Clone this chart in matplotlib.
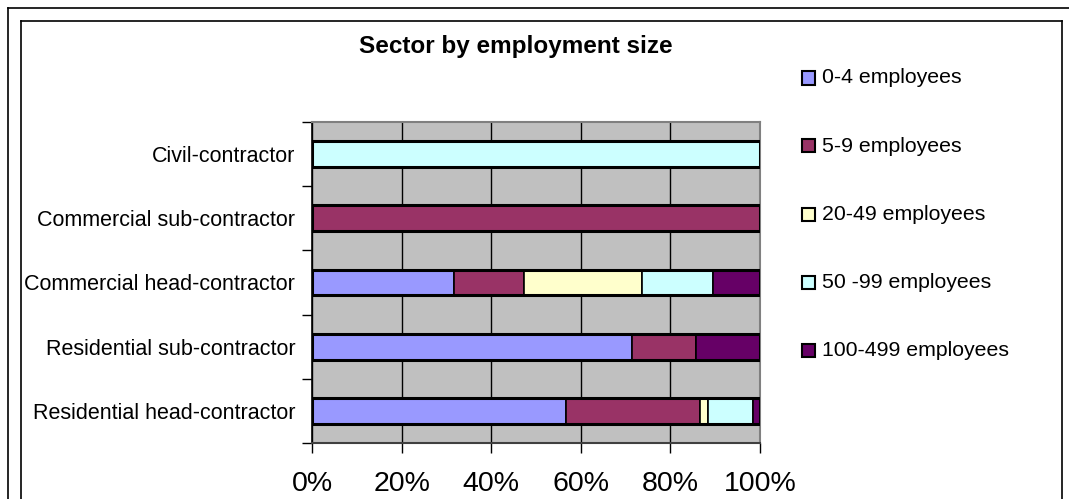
import matplotlib
matplotlib.use("Agg")
import matplotlib.pyplot as plt
from matplotlib.patches import Rectangle
from matplotlib.lines import Line2D
import numpy as np

plt.rcParams["font.family"] = ["Liberation Sans", "DejaVu Sans"]

# -------------------------------------------------------
# Data (share of firms in %, per sector)
# -------------------------------------------------------
sectors = [
    "Residential head-contractor",
    "Residential sub-contractor",
    "Commercial head-contractor",
    "Commercial sub-contractor",
    "Civil-contractor",
]
size_classes = ["0-4 employees", "5-9 employees", "20-49 employees",
                "50 -99 employees", "100-499 employees"]
size_colors = ["#9999FF", "#993366", "#FFFFCC", "#CCFFFF", "#660066"]

share_0_4 = [56.7, 71.4, 31.6, 0.0, 0.0]
share_5_9 = [30.0, 14.3, 15.8, 100.0, 0.0]
share_20_49 = [1.7, 0.0, 26.3, 0.0, 0.0]
share_50_99 = [10.0, 0.0, 15.8, 0.0, 100.0]
share_100_499 = [1.6, 14.3, 10.5, 0.0, 0.0]

shares = [share_0_4, share_5_9, share_20_49, share_50_99, share_100_499]
xticks = [0, 20, 40, 60, 80, 100]

# -------------------------------------------------------
# Figure
# -------------------------------------------------------
W, H = 1069, 499
fig = plt.figure(figsize=(W / 100, H / 100), dpi=100)
ax = fig.add_axes([312 / W, 1 - 443 / H, (760 - 312) / W, (443 - 122) / H])
ax.set_facecolor("#C0C0C0")

y = np.arange(len(sectors))
left = np.zeros(len(sectors))
for vals, col in zip(shares, size_colors):
    vals = np.array(vals)
    ax.barh(y, vals, left=left, height=0.4, color=col,
            edgecolor="black", linewidth=1.2, zorder=3)
    left += vals
# thicker outline around each full bar
ax.barh(y, left, height=0.4, fill=False, edgecolor="black",
        linewidth=2.2, zorder=4)

ax.set_xlim(0, 100)
ax.set_ylim(-0.5, len(sectors) - 0.5)
ax.set_xticks(xticks)
ax.set_xticklabels([f"{t}%" for t in xticks], fontsize=20.5)
ax.set_yticks(y)
ax.set_yticklabels(sectors, fontsize=15.5)
ax.set_yticks(np.arange(len(sectors) + 1) - 0.5, minor=True)
ax.tick_params(axis="y", which="major", length=0, pad=12)
ax.tick_params(axis="y", which="minor", length=7, width=1, color="black")
ax.tick_params(axis="x", length=7, width=1, color="black", pad=13.5)
ax.xaxis.grid(True, color="black", linewidth=1.0, zorder=1)
ax.set_axisbelow(True)

for side in ["top", "right"]:
    ax.spines[side].set_color("#808080")
    ax.spines[side].set_linewidth(1.5)
ax.spines["left"].set_color("black")
ax.spines["bottom"].set_color("#404040")
ax.spines["left"].set_linewidth(1.2)
ax.spines["bottom"].set_linewidth(1.5)

# title
fig.text(516 / W, 1 - 46 / H, "Sector by employment size", ha="center",
         va="center", fontsize=17.5, fontweight="bold")

# legend, drawn by hand
for i, (lab, col) in enumerate(zip(size_classes, size_colors)):
    yc = 78 + 68 * i
    fig.add_artist(Rectangle((802 / W, 1 - (yc + 6.5) / H), 13 / W, 13 / H,
                             facecolor=col, edgecolor="black", linewidth=1.5,
                             transform=fig.transFigure))
    fig.text(822 / W, 1 - yc / H, lab, ha="left", va="center", fontsize=15.3)

# double frame around the chart
def fline(xs, ys):
    fig.add_artist(Line2D([x / W for x in xs], [1 - v / H for v in ys],
                          color="black", linewidth=1.2,
                          transform=fig.transFigure))

fline([7.5, 7.5], [7.5, H + 5])
fline([7.5, W + 5], [7.5, 7.5])
fline([20.5, 20.5], [21, H + 5])
fline([20.5, 1062], [21, 21])
fline([1062, 1062], [21, H + 5])

fig.savefig("out.png", dpi=100, facecolor="white")
